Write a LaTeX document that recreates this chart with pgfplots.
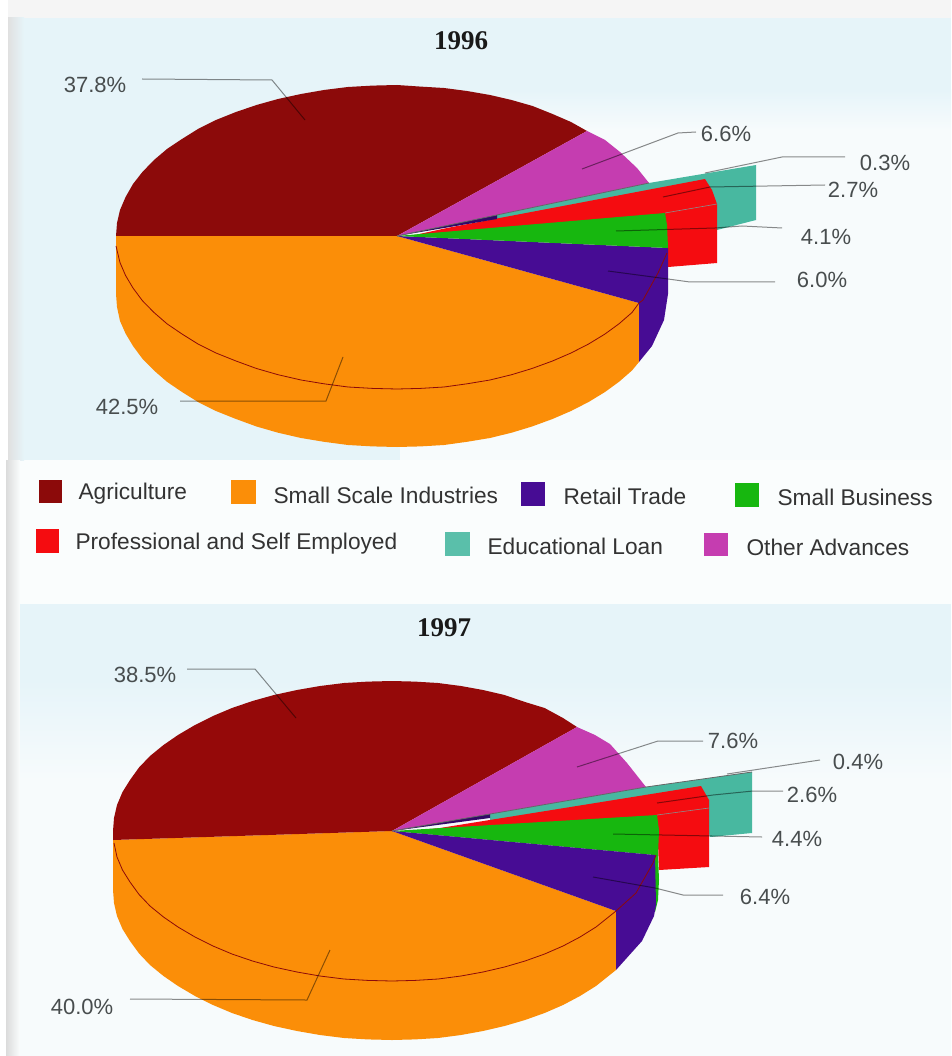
\documentclass[border=0pt]{standalone}
\usepackage{pgfplots}
\usepackage{fontspec}
\setmainfont{Liberation Sans}
\newfontfamily\titlefont{Liberation Serif}
\pgfplotsset{compat=1.18}

\definecolor{agri}{HTML}{8C0A0A}
\definecolor{ssi}{HTML}{FB8E08}
\definecolor{retail}{HTML}{470C94}
\definecolor{smallb}{HTML}{17B70F}
\definecolor{prof}{HTML}{F50C10}
\definecolor{edu}{HTML}{48B8A0}
\definecolor{other}{HTML}{C53DB0}
\definecolor{lab}{HTML}{484D4E}
\definecolor{bandblue}{HTML}{E6F4F9}
\definecolor{paleblue}{HTML}{F7FBFC}
\definecolor{paper}{HTML}{FAFDFD}

\tikzset{
  wedge/.style={fill=#1, draw=none},
  leader/.style={draw=black, draw opacity=0.45, line width=1pt},
  seam/.style={draw=#1, line width=0.8pt},
  pct/.style={text=lab, font=\fontsize{22}{24}\selectfont},
  lgd/.style={text=black!80, font=\fontsize{22.7}{24}\selectfont, anchor=west},
  yr/.style={font=\titlefont\bfseries\fontsize{27}{29}\selectfont, text=black!90},
}

\begin{document}
\begin{tikzpicture}
\begin{axis}[
    scale only axis, width=951pt, height=1056pt,
    xmin=0, xmax=951, ymin=0, ymax=1056, y dir=reverse,
    hide axis,
]
% page background
\addplot[fill=white, draw=none] coordinates {(0,0)(951,0)(951,1056)(0,1056)};
\addplot[fill=paper, draw=none] coordinates {(8,0)(951,0)(951,1056)(8,1056)};
\addplot[fill=black!4, draw=none] coordinates {(8,0)(951,0)(951,18)(8,18)};
\addplot[fill=bandblue, draw=none] coordinates {(24,18)(951,18)(951,90)(24,90)};
\addplot[fill=bandblue, draw=none] coordinates {(24,90)(400,90)(400,460)(24,460)};
\addplot[draw=none, top color=bandblue, bottom color=paleblue] coordinates {(400,90)(951,90)(951,130)(400,130)};
\addplot[fill=paleblue, draw=none] coordinates {(400,130)(951,130)(951,460)(400,460)};
\addplot[draw=none, left color=black!12, right color=bandblue] coordinates {(8,18)(24,18)(24,460)(8,460)};
\addplot[draw=none, left color=black!14, right color=paper] coordinates {(6,460)(20,460)(20,1056)(6,1056)};
\addplot[fill=bandblue, draw=none] coordinates {(20,604)(951,604)(951,680)(20,680)};
\addplot[draw=none, top color=bandblue, bottom color=paleblue] coordinates {(20,680)(951,680)(951,780)(20,780)};
\addplot[fill=paleblue, draw=none] coordinates {(20,780)(951,780)(951,1056)(20,1056)};

% ---- 1996 ----
\addplot[wedge=edu] coordinates {(497,215)(649,183)(756,165)(756,220)(717,230)(700,205)(497,220)};
\addplot[wedge=prof] coordinates {(447,228)(705,179)(712,190)(717,204)(717,263)(668,267)(665,214)(410,236)};
\addplot[wedge=ssi] coordinates {(397,236)(639,303)(639,362)(632,370.5)(619,381.8)(605,392)(588.6,402)(571,411)(552.5,419)(532,426.5)(511.6,432.7)(490,438)(467,441.8)(444,445)(420.6,446.4)(397,447)
  (372.6,446.4)(348,445)(324,441.8)(301,438)(278,432.7)(256.5,426.5)(236,419)(216,411)(198,402)(182,392)(167,381.8)(154,370.5)(142.4,358.7)(133,346)(125.6,333.6)(120,321)(117,307)(116,294)(116,236)};
\addplot[wedge=retail] coordinates {(397,236)(668,248)(668,294)(664,320)(652,346)(639,362)(639,303)};
\addplot[wedge=smallb] coordinates {(397,236)(665,213)(667,225)(668,248)};
\addplot[wedge=agri] coordinates {(397,236)(116,236)(117,223)(120,210)(125.6,197)(133,184)(142.4,172)(154,160)(167,149)(182,139)(198,129)(216,120)(236,112)(256.5,105)(278,99)(301,94)(324,90)(348,87)(372.6,85.6)(397,85)
  (420.6,86.6)(444,88)(467,91)(490,95)(511.6,100)(532.5,106)(552.5,114)(571,122)(587,131)};
\addplot[wedge=other] coordinates {(397,236)(587,131)(605,140)(620,152)(637,168)(649,183)};
\addplot[fill=retail!70!black, draw=none] coordinates {(397,236)(497,215)(497,219)};
\addplot[seam=black!60] coordinates {(397,236)(649,183)};
\addplot[seam=black!45, line width=0.6pt] coordinates {(665,213)(717,204)};
% top rim seen through the side wall
\addplot[seam=agri] coordinates {(116,246)(120,262.6)(125.6,275.6)(133,288)(142.4,300.7)(154,312.5)(167,323.8)(182,334)(198,344)(216,353)(236,361)(256.5,368.5)(278,374.7)(301,380)(324,383.8)(348,387)(372.6,388.4)(397,389)
  (420.6,388.4)(444,387)(467,383.8)(490,380)(511.6,374.7)(532,368.5)(552.5,361)(571,353)(588.6,344)(605,334)(619,323.8)(632,312.5)(639,303)(643,300)(658,273)(667,253)};
% leaders
\addplot[leader] coordinates {(142,79)(272,80)(305,120)};
\addplot[leader] coordinates {(582,169)(678,133)(696,132)};
\addplot[leader] coordinates {(705,173)(782,157)(845,157)};
\addplot[leader] coordinates {(663,197)(710,187)(825,185)};
\addplot[leader] coordinates {(616,231)(715,228)(742,226)(782,228)};
\addplot[leader] coordinates {(608,271)(668,279)(690,282)(775,282)};
\addplot[leader] coordinates {(180,401)(326,401)(343,357)};
\node[yr] at (axis cs:461,41) {1996};
\node[pct] at (axis cs:95,85) {37.8\%};
\node[pct] at (axis cs:726,134) {6.6\%};
\node[pct] at (axis cs:885,163) {0.3\%};
\node[pct] at (axis cs:853,190) {2.7\%};
\node[pct] at (axis cs:826,237) {4.1\%};
\node[pct] at (axis cs:822,280) {6.0\%};
\node[pct] at (axis cs:127,407) {42.5\%};

% ---- legend ----
\addplot[wedge=agri] coordinates {(39,480)(62,480)(62,503)(39,503)};
\addplot[wedge=ssi] coordinates {(231,480)(256,480)(256,504)(231,504)};
\addplot[wedge=retail] coordinates {(521,482)(545,482)(545,506)(521,506)};
\addplot[wedge=smallb] coordinates {(735,483)(759,483)(759,507)(735,507)};
\addplot[wedge=prof] coordinates {(36,529)(59,529)(59,553)(36,553)};
\addplot[wedge=edu!90!white] coordinates {(445,532)(470,532)(470,556)(445,556)};
\addplot[wedge=other] coordinates {(704,533)(728,533)(728,556)(704,556)};
\node[lgd] at (axis cs:75,494) {Agriculture};
\node[lgd] at (axis cs:270,495) {Small Scale Industries};
\node[lgd] at (axis cs:560,496) {Retail Trade};
\node[lgd] at (axis cs:774,497) {Small Business};
\node[lgd] at (axis cs:72,544) {Professional and Self Employed};
\node[lgd] at (axis cs:484,546) {Educational Loan};
\node[lgd] at (axis cs:743,547) {Other Advances};

% ---- 1997 ----
\addplot[wedge=edu] coordinates {(490,814)(646,787)(752,772)(752,833)(710,837)(700,805)(490,822)};
\addplot[wedge=prof] coordinates {(440,828)(701,786)(709,800)(709,867)(659,870)(657,816)(410,831)};
\addplot[wedge=ssi] coordinates {(392,831)(616,911)(616,970)(596,986)(580,996)(563,1005)(544.6,1013)(525,1020)(504.5,1026)(483,1031)(461,1035)(438,1038)(415,1039.4)(392,1040)
  (367.7,1039.4)(344,1038)(320,1035)(297,1031)(274,1026)(252.5,1020)(232,1013)(213,1005)(195,996)(178,986)(163.5,976)(150,965)(139,953.4)(130,941)(122.5,929)(117,916)(114,903)(113,890)(113,840)};
\addplot[wedge=smallb] coordinates {(392,831)(657,815)(659,830)(658,855)(659,880)(658,900)(655,912)(654,855)};
\addplot[wedge=retail] coordinates {(392,831)(655,855)(656,905)(654,916)(642,941)(616,970)(616,911)};
\addplot[wedge=agri!92!red] coordinates {(392,831)(113,840)(113,831)(114,818)(117,805)(122.5,792)(130,780)(139,767.5)(150,756)(163.5,745)(178,735)(195,725)(213,716)(232,708)(252.5,701)(274,695)(297,690)(320,686)(344,683)(367.7,681.6)(392,681)
  (415,681.6)(438,683)(461,686)(483,690)(504.5,695)(525,702)(544.6,708)(563,718)(577,727)};
\addplot[wedge=other] coordinates {(392,831)(577,727)(595,735)(610,744)(627,763)(646,787)};
\addplot[fill=retail!70!black, draw=none] coordinates {(392,831)(490,814)(490,818)};
\addplot[seam=black!60] coordinates {(392,831)(646,787)(752,772)};
\addplot[seam=black!45, line width=0.6pt] coordinates {(657,815)(709,808)};
\addplot[seam=agri] coordinates {(114,843)(117,857)(122.5,870)(130,882)(139,894.4)(150,906)(163.5,917)(178,927)(195,937)(213,946)(232,954)(252.5,961)(274,967)(297,972)(320,976)(344,979)(367.7,980.4)(392,981)
  (415,980.4)(438,979)(461,976)(483,972)(504.5,967)(525,961)(544.6,954)(563,946)(580,937)(596,927)(616,911)(636,893)(653,863)(656,855)};
\addplot[leader] coordinates {(187,669)(255,669)(296,718)};
\addplot[leader] coordinates {(577,767)(658,741)(703,741)};
\addplot[leader] coordinates {(727,774)(820,760)};
\addplot[leader] coordinates {(657,803)(713,795)(753,791)(783,791)};
\addplot[leader] coordinates {(613,834)(762,837)};
\addplot[leader] coordinates {(593,877)(655,888)(683,895)(723,895)};
\addplot[leader] coordinates {(130,999)(307,1000)(330,950)};
\node[yr] at (axis cs:444,628) {1997};
\node[pct] at (axis cs:145,675) {38.5\%};
\node[pct] at (axis cs:733,741) {7.6\%};
\node[pct] at (axis cs:858,762) {0.4\%};
\node[pct] at (axis cs:812,795) {2.6\%};
\node[pct] at (axis cs:797,839) {4.4\%};
\node[pct] at (axis cs:765,897) {6.4\%};
\node[pct] at (axis cs:82,1007) {40.0\%};
\end{axis}
\end{tikzpicture}
\end{document}
